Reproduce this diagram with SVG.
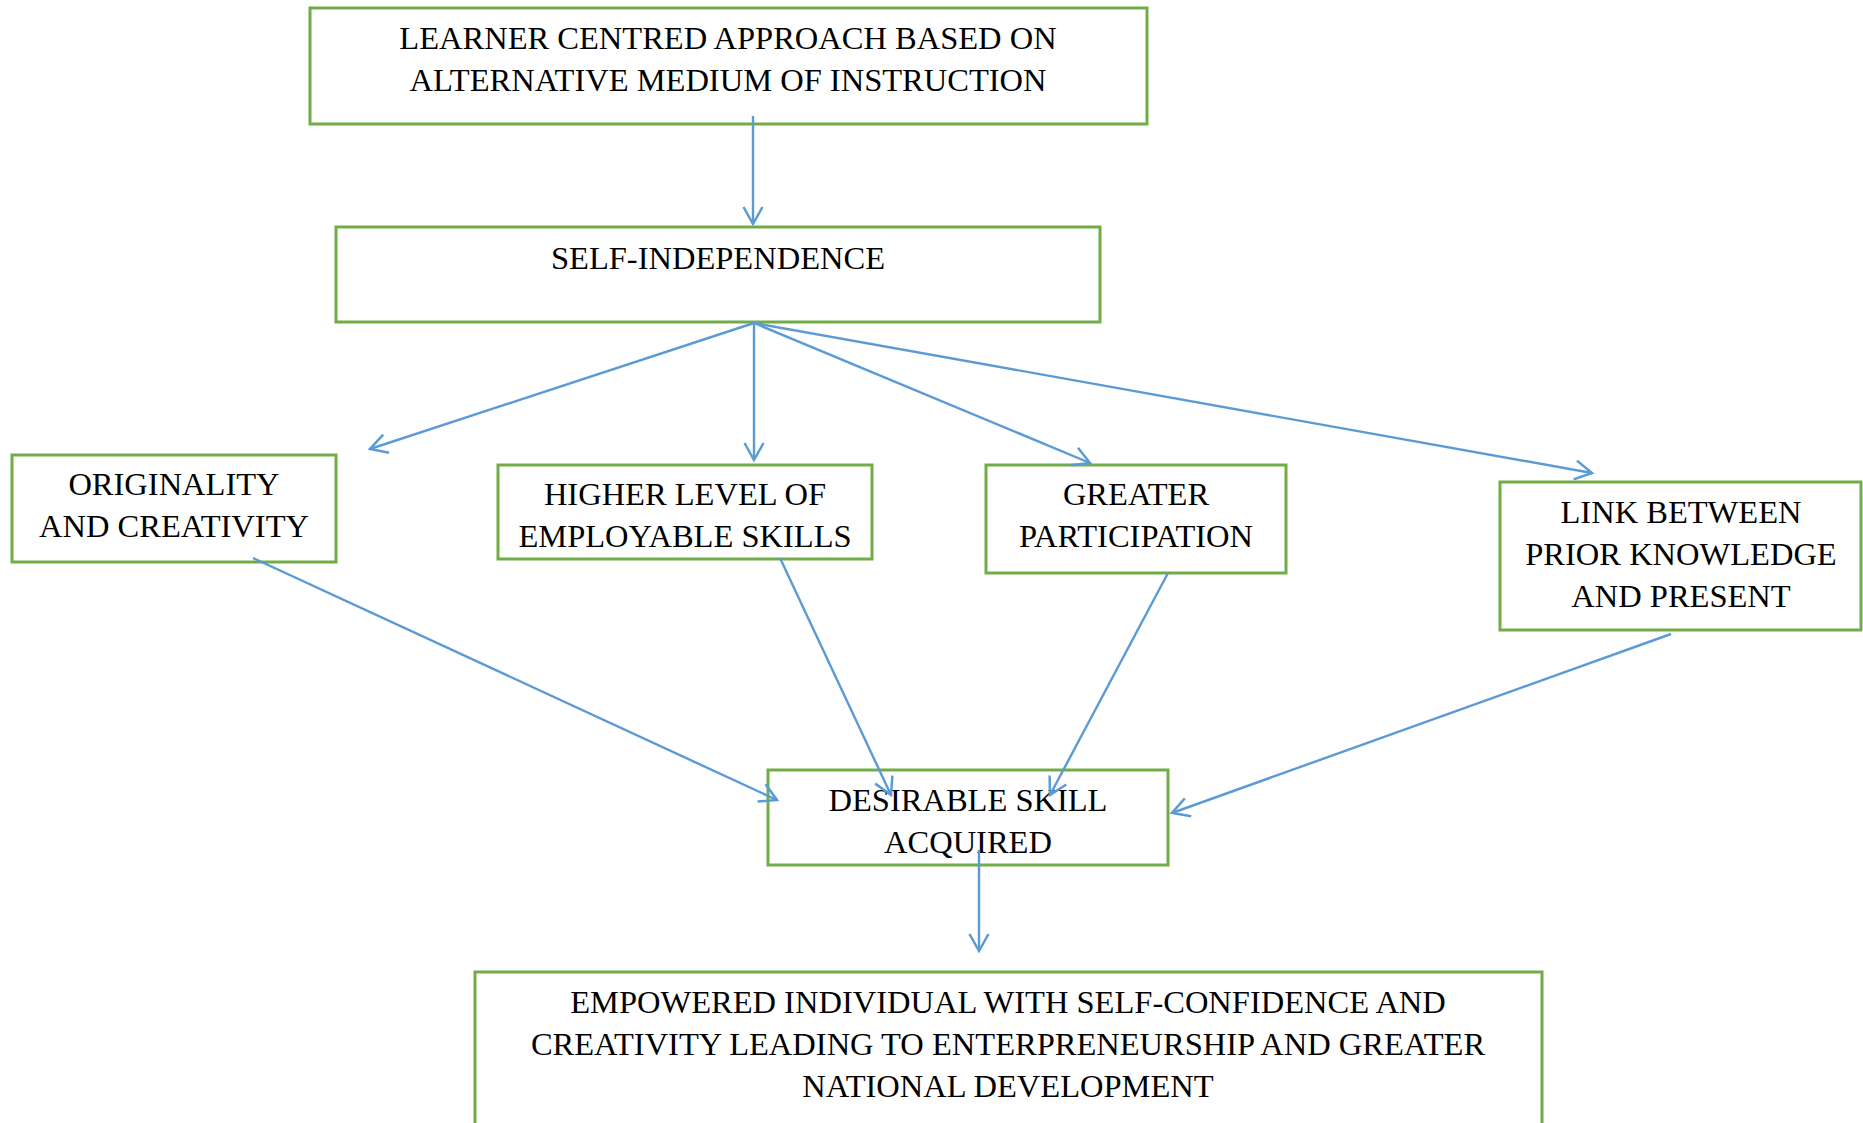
<svg xmlns="http://www.w3.org/2000/svg" width="1863" height="1123" viewBox="0 0 1863 1123">
  <style>
    .box { fill: #ffffff; stroke: #70AD47; stroke-width: 3; }
    .lbl { font-family: "Liberation Serif", "Times New Roman", serif; font-size: 32.5px; fill: #000000; text-anchor: middle; }
    .conn { stroke: #5B9BD5; stroke-width: 2.4; fill: none; marker-end: url(#arr); }
  </style>
  <defs>
    <marker id="arr" markerUnits="userSpaceOnUse" viewBox="-20 -12 24 24" refX="0" refY="0" markerWidth="24" markerHeight="24" orient="auto">
      <path d="M -17 -9.5 L 0 0 L -17 9.5" fill="none" stroke="#5B9BD5" stroke-width="2.5" stroke-linejoin="miter"/>
    </marker>
  </defs>
  <rect width="1863" height="1123" fill="#ffffff"/>

  <g id="n-learner">
    <rect class="box" x="310" y="8" width="837" height="116"/>
    <text class="lbl" x="728" y="49">LEARNER CENTRED APPROACH BASED ON</text>
    <text class="lbl" x="728" y="91">ALTERNATIVE MEDIUM OF INSTRUCTION</text>
  </g>

  <g id="n-self">
    <rect class="box" x="336" y="227" width="764" height="95"/>
    <text class="lbl" x="718" y="269">SELF-INDEPENDENCE</text>
  </g>

  <g id="n-originality">
    <rect class="box" x="12" y="455" width="324" height="107"/>
    <text class="lbl" x="174" y="495">ORIGINALITY</text>
    <text class="lbl" x="174" y="537">AND CREATIVITY</text>
  </g>

  <g id="n-higher">
    <rect class="box" x="498" y="465" width="374" height="94"/>
    <text class="lbl" x="685" y="505">HIGHER LEVEL OF</text>
    <text class="lbl" x="685" y="547">EMPLOYABLE SKILLS</text>
  </g>

  <g id="n-greater">
    <rect class="box" x="986" y="465" width="300" height="108"/>
    <text class="lbl" x="1136" y="505">GREATER</text>
    <text class="lbl" x="1136" y="547">PARTICIPATION</text>
  </g>

  <g id="n-link">
    <rect class="box" x="1500" y="482" width="361" height="148"/>
    <text class="lbl" x="1681" y="523">LINK BETWEEN</text>
    <text class="lbl" x="1681" y="565">PRIOR KNOWLEDGE</text>
    <text class="lbl" x="1681" y="607">AND PRESENT</text>
  </g>

  <g id="n-desirable">
    <rect class="box" x="768" y="770" width="400" height="95"/>
    <text class="lbl" x="968" y="811">DESIRABLE SKILL</text>
    <text class="lbl" x="968" y="853">ACQUIRED</text>
  </g>

  <g id="n-empowered">
    <rect class="box" x="475" y="972" width="1067" height="170"/>
    <text class="lbl" x="1008" y="1013">EMPOWERED INDIVIDUAL WITH SELF-CONFIDENCE AND</text>
    <text class="lbl" x="1008" y="1055">CREATIVITY LEADING TO ENTERPRENEURSHIP AND GREATER</text>
    <text class="lbl" x="1008" y="1097">NATIONAL DEVELOPMENT</text>
  </g>

  <g id="connectors">
    <line class="conn" x1="753" y1="116" x2="753" y2="224"/>
    <line class="conn" x1="754" y1="323" x2="370" y2="449"/>
    <line class="conn" x1="754" y1="323" x2="754" y2="460"/>
    <line class="conn" x1="754" y1="323" x2="1090" y2="463"/>
    <line class="conn" x1="754" y1="323" x2="1592" y2="473"/>
    <line class="conn" x1="253" y1="558" x2="777" y2="800"/>
    <line class="conn" x1="780" y1="558" x2="891" y2="795"/>
    <line class="conn" x1="1168" y1="573" x2="1050" y2="795"/>
    <line class="conn" x1="1671" y1="634" x2="1172" y2="813"/>
    <line class="conn" x1="979" y1="850" x2="979" y2="951"/>
  </g>
</svg>
